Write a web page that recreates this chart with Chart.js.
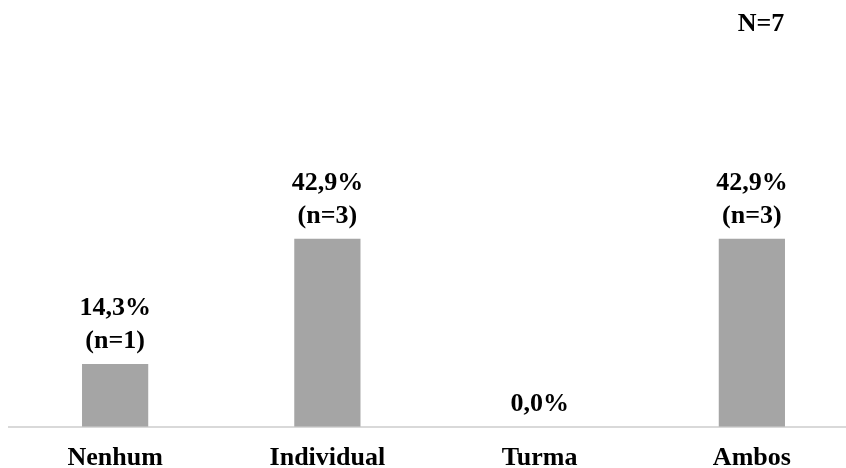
<!DOCTYPE html>
<html>
<head>
<meta charset="utf-8">
<script src="https://cdn.jsdelivr.net/npm/chart.js@4/dist/chart.umd.min.js"></script>
<style>
  html, body { margin: 0; padding: 0; background: #ffffff; overflow: hidden; }
  #wrap { position: relative; width: 858px; height: 482px; }
</style>
</head>
<body>
<div id="wrap"><canvas id="chart"></canvas></div>
<script>
// Respostas por categoria (total N=7)
const categories = ['Nenhum', 'Individual', 'Turma', 'Ambos'];
const percentages = [14.3, 42.9, 0.0, 42.9];
const counts = [1, 3, 0, 3];
const totalLabel = 'N=7';

const FONT = '"Liberation Serif", "Times New Roman", serif';

function pctText(v) {
  return v.toFixed(1).replace('.', ',') + '%';
}

// Rótulos de valor acima de cada barra e o total no canto superior direito
const valueLabels = {
  id: 'valueLabels',
  afterDatasetsDraw(chart) {
    const ctx = chart.ctx;
    const meta = chart.getDatasetMeta(0);
    ctx.save();
    ctx.fillStyle = '#000000';
    ctx.font = 'bold 26px ' + FONT;
    ctx.textAlign = 'center';
    ctx.textBaseline = 'alphabetic';
    meta.data.forEach((bar, i) => {
      const lines = [pctText(percentages[i])];
      if (counts[i] > 0) lines.push('(n=' + counts[i] + ')');
      let y = bar.y - 16;
      for (let k = lines.length - 1; k >= 0; k--) {
        ctx.fillText(lines[k], bar.x, y);
        y -= 33;
      }
    });
    ctx.fillText(totalLabel, 761, 31);
    ctx.restore();
  }
};

new Chart(document.getElementById('chart'), {
  type: 'bar',
  data: {
    labels: categories,
    datasets: [{
      data: percentages,
      backgroundColor: '#a5a5a5',
      borderWidth: 0,
      categoryPercentage: 1.0,
      barPercentage: 0.312
    }]
  },
  options: {
    responsive: true,
    maintainAspectRatio: false,
    animation: false,
    layout: { padding: { top: 76, left: 9, right: 0, bottom: 0 } },
    plugins: {
      legend: { display: false },
      tooltip: { enabled: false }
    },
    scales: {
      x: {
        grid: { display: false },
        border: { display: true, color: '#d9d9d9', width: 2 },
        ticks: {
          color: '#000000',
          padding: 8,
          font: { family: FONT, size: 26, weight: 'bold' }
        }
      },
      y: {
        display: false,
        min: 0,
        max: 80
      }
    }
  },
  plugins: [valueLabels]
});
</script>
</body>
</html>
